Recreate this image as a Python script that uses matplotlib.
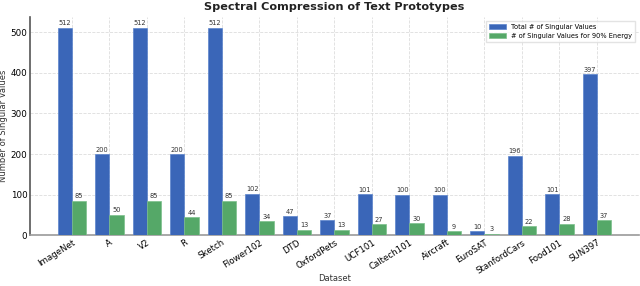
import numpy as np
import matplotlib.pyplot as plt

# data
datasets = ['ImageNet', 'A', 'V2', 'R', 'Sketch', 'Flower102', 'DTD', 'OxfordPets',
            'UCF101', 'Caltech101', 'Aircraft', 'EuroSAT', 'StanfordCars', 'Food101', 'SUN397']
total_sv = [512, 200, 512, 200, 512, 102, 47, 37, 101, 100, 100, 10, 196, 101, 397]
energy_sv = [85, 50, 85, 44, 85, 34, 13, 13, 27, 30, 9, 3, 22, 28, 37]

x = np.arange(len(datasets))
w = 0.38

fig, ax = plt.subplots(figsize=(6.4, 2.86), dpi=100)
b1 = ax.bar(x - w / 2, total_sv, w, color='#3a66b8', edgecolor='#5b84cc', linewidth=0.5,
            label='Total # of Singular Values', zorder=3)
b2 = ax.bar(x + w / 2, energy_sv, w, color='#55a868', edgecolor='#7cbf8b', linewidth=0.5,
            label='# of Singular Values for 90% Energy', zorder=3)
ax.bar_label(b1, fontsize=4.8, color='#333333', padding=1)
ax.bar_label(b2, fontsize=4.8, color='#333333', padding=1)

ax.set_title('Spectral Compression of Text Prototypes', fontsize=8.1, fontweight='bold',
             color='#222222', pad=5)
ax.set_xlabel('Dataset', fontsize=6, color='#333333', labelpad=-1)
ax.set_ylabel('Number of Singular Values', fontsize=6, color='#333333', labelpad=2)
ax.set_xticks(x)
ax.set_xticklabels(datasets, rotation=32, ha='right', rotation_mode='anchor', fontsize=6.2)
ax.tick_params(axis='y', labelsize=6.3, length=0, pad=2)
ax.tick_params(axis='x', length=0, pad=2)

ax.grid(True, linestyle='--', color='#dddddd', linewidth=0.6, zorder=0)
for s in ['top', 'right']:
    ax.spines[s].set_visible(False)
ax.spines['left'].set_color('#555555')
ax.spines['left'].set_linewidth(1.2)
ax.spines['bottom'].set_color('#999999')
ax.spines['bottom'].set_linewidth(1.2)

ax.legend(fontsize=4.8, loc='upper right', frameon=True, fancybox=False,
          edgecolor='#dddddd', handlelength=2.5, borderaxespad=0.6)

fig.subplots_adjust(left=0.047, right=0.998, bottom=0.178, top=0.94)
plt.savefig('out.png', dpi=100)
